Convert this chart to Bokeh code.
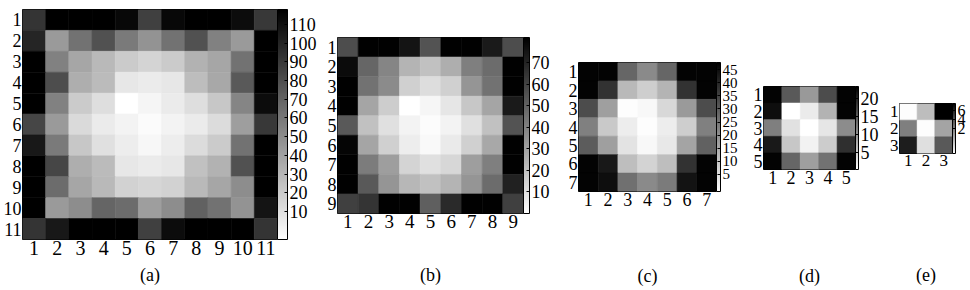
from bokeh.plotting import figure
from bokeh.models import (ColumnDataSource, LinearColorMapper, ColorBar, FixedTicker,
                          Range1d, AllLabels)
from bokeh.palettes import Greys256
from bokeh.layouts import row
from bokeh.transform import transform
from bokeh.embed import file_html
from bokeh.resources import INLINE

# ---------------- data ----------------
panel_a = [
    [93, 118, 118, 118, 114, 87, 114, 118, 118, 112, 91],
    [100, 44, 63, 79, 59, 47, 63, 79, 56, 44, 118],
    [118, 56, 38, 29, 20, 16, 20, 32, 38, 63, 118],
    [118, 81, 34, 28, 7, 5, 7, 27, 37, 75, 118],
    [118, 56, 20, 11, -5, 0, 5, 11, 22, 54, 112],
    [84, 44, 13, 5, 1, -3, 1, 5, 12, 42, 91],
    [106, 59, 22, 10, 4, -1, 4, 12, 20, 63, 118],
    [118, 84, 34, 28, 7, 5, 7, 25, 32, 79, 118],
    [118, 66, 38, 29, 17, 15, 17, 29, 38, 50, 118],
    [118, 44, 50, 69, 66, 42, 50, 71, 63, 47, 108],
    [93, 106, 118, 118, 118, 87, 112, 118, 118, 118, 93],
]
panel_b = [
    [57, 81, 81, 75, 55, 81, 81, 73, 57],
    [78, 49, 39, 24, 20, 26, 41, 47, 81],
    [81, 45, 37, 15, 11, 15, 34, 45, 81],
    [81, 29, 16, 0, 3, 8, 18, 29, 73],
    [53, 20, 10, 4, 1, 4, 10, 20, 55],
    [80, 29, 15, 6, 2, 7, 15, 28, 81],
    [81, 42, 31, 14, 10, 13, 31, 41, 81],
    [81, 53, 34, 23, 20, 24, 34, 47, 71],
    [61, 65, 81, 81, 51, 68, 81, 81, 61],
]
panel_c = [
    [47, 47, 28, 21, 28, 47, 47],
    [47, 38, 12, 8, 13, 38, 47],
    [33, 17, -1, 0, 6, 18, 33],
    [23, 9, 2, -1, 2, 8, 23],
    [30, 17, 4, 0, 3, 16, 29],
    [47, 43, 11, 7, 11, 38, 47],
    [47, 45, 26, 21, 24, 44, 47],
]
panel_d = [
    [23, 15.3, 9.5, 16.4, 23],
    [22, 0.3, 2.1, 7.2, 23],
    [11.8, 3, 0.3, 2.6, 10.7],
    [21, 5.4, 1.5, 4.9, 19],
    [23, 14.1, 9, 13, 23],
]
panel_e = [
    [-3.5, -0.7, 7.6],
    [2.0, -3.5, 0.4],
    [6.3, -2.2, 3.7],
]

cbar_low = [-5, 0, -1.5, 0.3, -3.6]
cbar_high = [118, 81.6, 47.7, 23.3, 7.6]
cbar_ticks_a = [10, 20, 30, 40, 50, 60, 70, 80, 90, 100, 110]
cbar_ticks_b = [10, 20, 30, 40, 50, 60, 70]
cbar_ticks_c = [5, 10, 15, 20, 25, 30, 35, 40, 45]
cbar_ticks_d = [5, 10, 15, 20]
cbar_ticks_e = [2, 4, 6]
captions = ["(a)", "(b)", "(c)", "(d)", "(e)"]

# ---------------- layout / style ----------------
FONT = "Liberation Serif"
H = 288
CAPTION_TOP = 270
PALETTE = tuple(reversed(Greys256))  # low -> white, high -> black

layouts = [
    dict(w=324, left=19, fw=258, top=9, fh=230, cbw=10, cbm=4, yfs=18, xfs=20, cfs=18),
    dict(w=241, left=12, fw=187, top=37, fh=176, cbw=6, cbm=4, yfs=18, xfs=19, cfs=18),
    dict(w=185, left=12, fw=139, top=62, fh=129, cbw=4, cbm=3, yfs=18, xfs=18, cfs=15),
    dict(w=136, left=12, fw=93, top=86, fh=83, cbw=3, cbm=2, yfs=18, xfs=18, cfs=18),
    dict(w=82, left=12, fw=54, top=103, fh=50, cbw=3, cbm=1, yfs=17, xfs=17, cfs=16),
]


def make_panel(vals, low, high, ticks, caption, L):
    n = len(vals)
    xs, ys, vs = [], [], []
    for r, rowvals in enumerate(vals):
        for c, v in enumerate(rowvals):
            xs.append(c + 1)
            ys.append(r + 1)
            vs.append(v)
    src = ColumnDataSource(dict(x=xs, y=ys, v=vs))
    mapper = LinearColorMapper(palette=PALETTE, low=low, high=high)

    right = L["w"] - L["left"] - L["fw"]
    bottom = H - L["top"] - L["fh"]
    p = figure(width=L["w"], height=H,
               x_range=Range1d(0.5, n + 0.5), y_range=Range1d(n + 0.5, 0.5),
               output_backend="svg", toolbar_location=None, title=None,
               min_border_left=L["left"], min_border_right=right,
               min_border_top=L["top"], min_border_bottom=bottom,
               frame_align=False,
               background_fill_color="white", border_fill_color="white")
    p.rect("x", "y", width=1, height=1, source=src,
           fill_color=transform("v", mapper), line_color=transform("v", mapper),
           line_width=0.6)

    p.grid.visible = False
    p.outline_line_color = "black"
    p.outline_line_width = 1
    for ax, fs in ((p.xaxis, L["xfs"]), (p.yaxis, L["yfs"])):
        ax.ticker = FixedTicker(ticks=list(range(1, n + 1)))
        ax.major_label_text_font = FONT
        ax.major_label_text_font_size = f"{fs}px"
        ax.major_label_text_color = "black"
        ax.major_label_standoff = 2 if ax is p.xaxis else 1
        ax.major_label_policy = AllLabels()
        ax.axis_line_color = None
        ax.major_tick_line_color = None
        ax.minor_tick_line_color = None
        ax.major_tick_in = 0
        ax.major_tick_out = 0
        ax.minor_tick_in = 0
        ax.minor_tick_out = 0

    frame_bottom = L["top"] + L["fh"]
    tick_h = round(1.11 * L["xfs"])
    p.xaxis.axis_label = caption
    p.xaxis.axis_label_text_font = FONT
    p.xaxis.axis_label_text_font_size = "18px"
    p.xaxis.axis_label_text_font_style = "normal"
    p.xaxis.axis_label_text_color = "black"
    p.xaxis.axis_label_standoff = max(0, CAPTION_TOP - frame_bottom - 2 - tick_h)

    cb = ColorBar(color_mapper=mapper, ticker=FixedTicker(ticks=ticks),
                  width=L["cbw"], margin=L["cbm"], padding=0, label_standoff=2,
                  major_label_text_font=FONT,
                  major_label_text_font_size=f"{L['cfs']}px",
                  major_label_text_color="black",
                  major_label_policy=AllLabels(),
                  major_tick_in=3, major_tick_out=0,
                  major_tick_line_color="black",
                  minor_tick_line_color=None,
                  bar_line_color="black", border_line_color=None,
                  background_fill_color="white")
    p.add_layout(cb, "right")
    return p


panels = [panel_a, panel_b, panel_c, panel_d, panel_e]
tick_sets = [cbar_ticks_a, cbar_ticks_b, cbar_ticks_c, cbar_ticks_d, cbar_ticks_e]
figs = [make_panel(v, lo, hi, t, cap, L)
        for v, lo, hi, t, cap, L in zip(panels, cbar_low, cbar_high, tick_sets, captions, layouts)]

layout = row(*figs, spacing=0)
open("out.html", "w").write(file_html(layout, INLINE))
